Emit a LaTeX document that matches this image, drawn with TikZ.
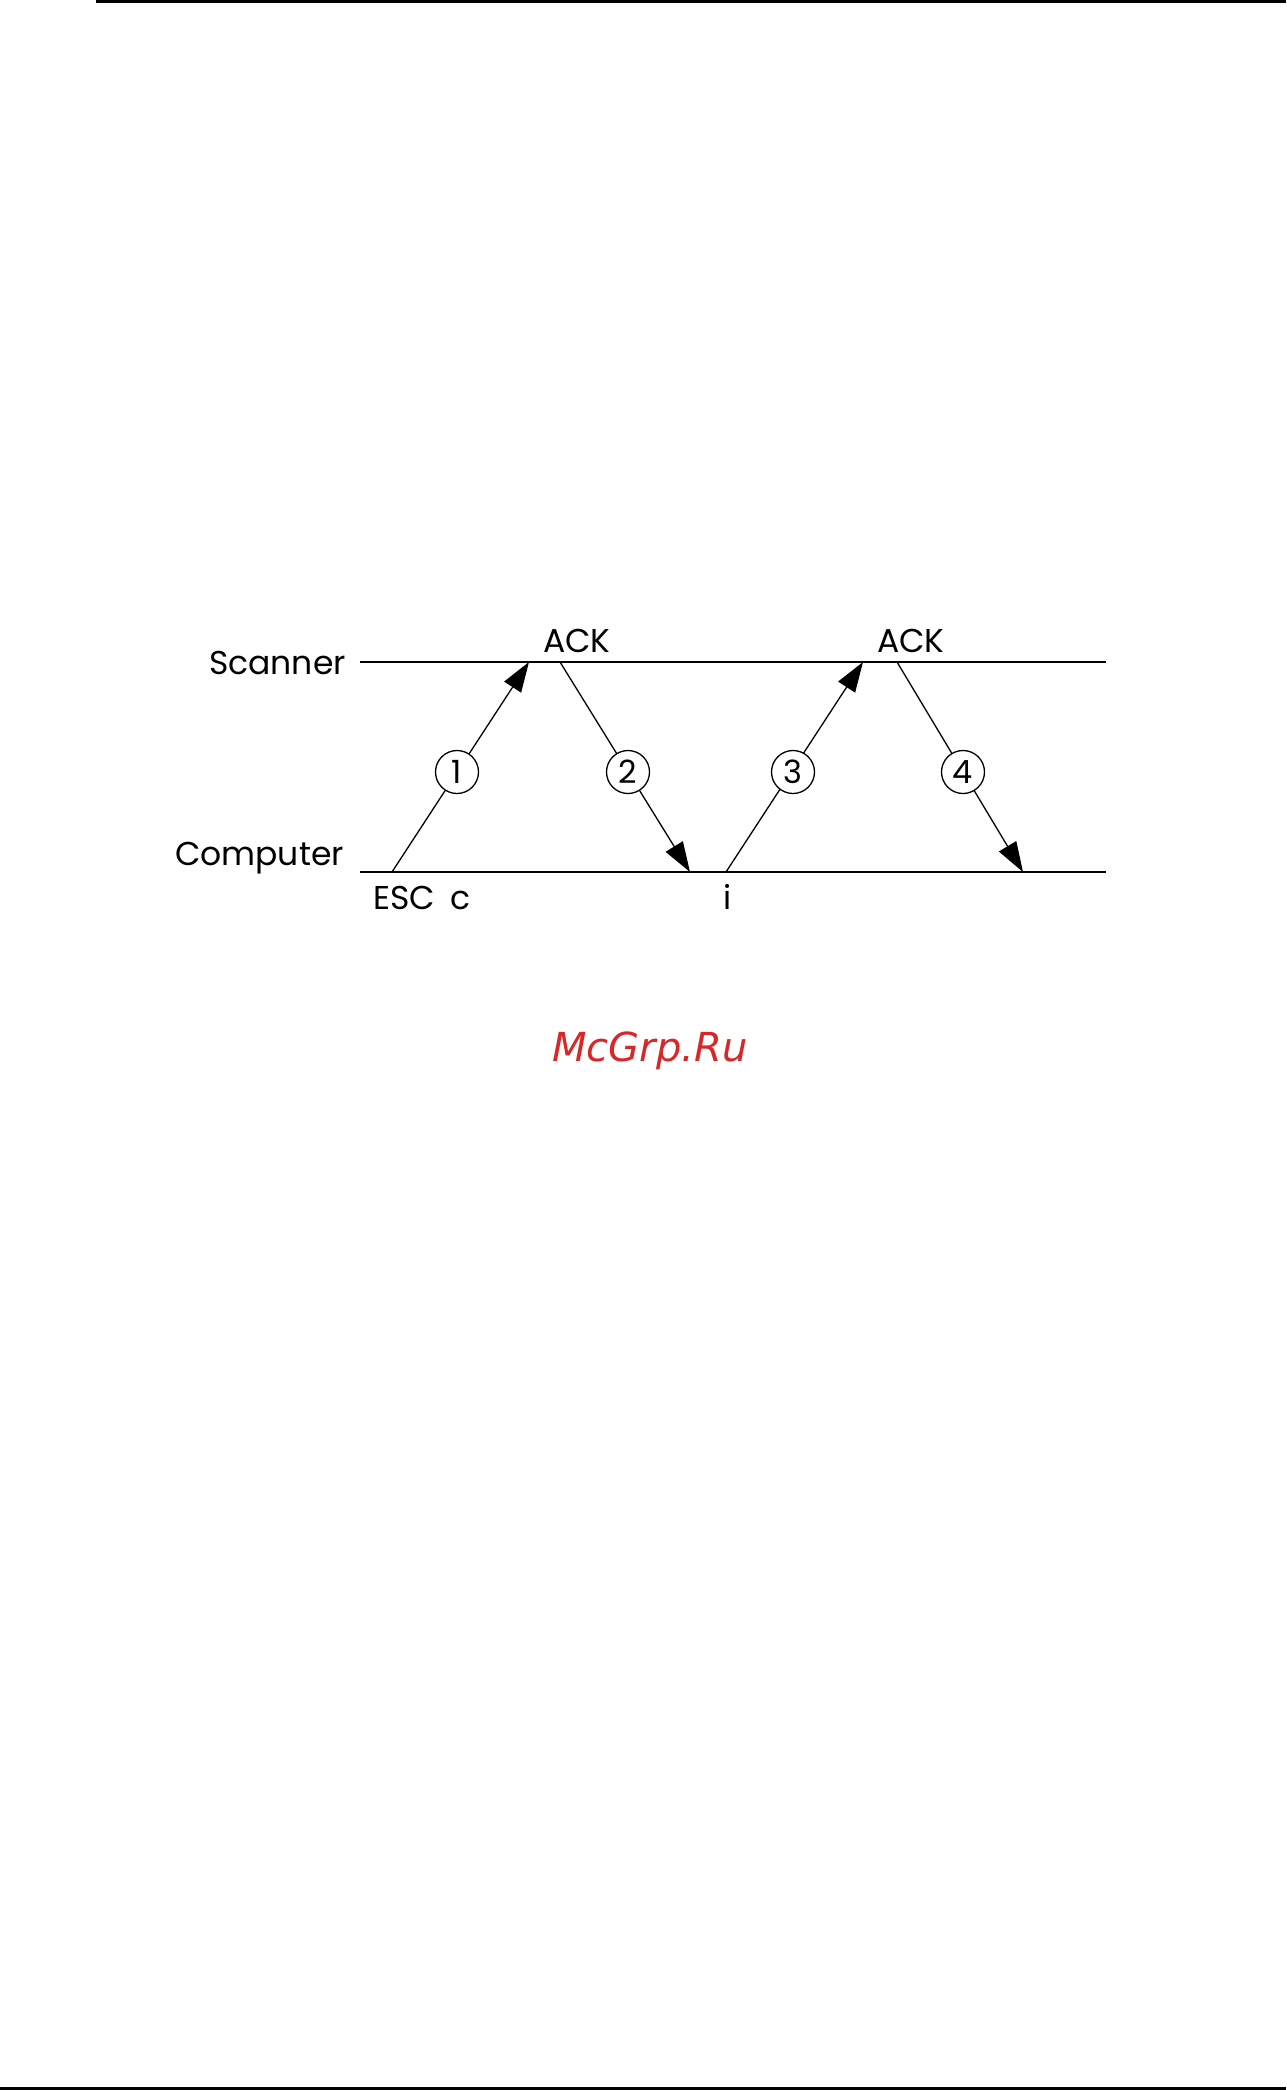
\documentclass[tikz,border=0pt]{standalone}
\usepackage{fontspec}
\setmainfont{Poppins}
\newfontfamily\wmfont{DejaVu Sans}
\usetikzlibrary{arrows.meta}
\definecolor{wmred}{RGB}{214,40,40}
\begin{document}
\begin{tikzpicture}[x=1pt,y=-1pt,
  rulel/.style={line width=2.6pt},
  axis/.style={line width=2.6pt},
  msg/.style={line width=1.3pt,-{Triangle[length=30pt,width=20pt]}},
  num/.style={circle,draw,line width=1.3pt,fill=white,minimum size=43pt,inner sep=0pt,font=\fontsize{32}{32}\selectfont},
  lbl/.style={inner sep=0pt,font=\fontsize{33}{33}\selectfont}]
\useasboundingbox (0,0) rectangle (1286,2090);
\fill[white] (0,0) rectangle (1286,2090);
% page rules
\draw[rulel] (96,1.3) -- (1286,1.3);
\draw[rulel] (0,2088.7) -- (1286,2088.7);
% axes
\coordinate (sL) at (360,662);
\coordinate (sR) at (1106,662);
\coordinate (cL) at (360,872);
\coordinate (cR) at (1106,872);
\draw[axis] (sL) -- (sR);
\draw[axis] (cL) -- (cR);
\node[lbl,anchor=base east] (scanner) at (346,674) {Scanner};
\node[lbl,anchor=base east] (computer) at (344,865) {Computer};
\node[lbl,anchor=base west] (ack1) at (543,652) {ACK};
\node[lbl,anchor=base west] (ack2) at (877,652) {ACK};
\node[lbl,anchor=base west] (esc) at (373,909) {ESC\hspace{16pt}c};
\node[lbl,anchor=base] (ii) at (728,909) {i};
% message endpoints
\coordinate (a1) at (392,872);
\coordinate (b1) at (529,662);
\coordinate (a2) at (560,662);
\coordinate (b2) at (690,872);
\coordinate (a3) at (726,872);
\coordinate (b3) at (863,662);
\coordinate (a4) at (897,662);
\coordinate (b4) at (1023,872);
\draw[msg] (a1) -- (b1);
\draw[msg] (a2) -- (b2);
\draw[msg] (a3) -- (b3);
\draw[msg] (a4) -- (b4);
\node[num] (n1) at (457,772) {1};
\node[num] (n2) at (628,772) {2};
\node[num] (n3) at (793,772) {3};
\node[num] (n4) at (963,772) {4};
% watermark
\node[inner sep=0pt,anchor=base west,text=wmred,font=\wmfont\itshape\fontsize{40}{40}\selectfont] (wm) at (552,1061) {McGrp.Ru};
\end{tikzpicture}
\end{document}
